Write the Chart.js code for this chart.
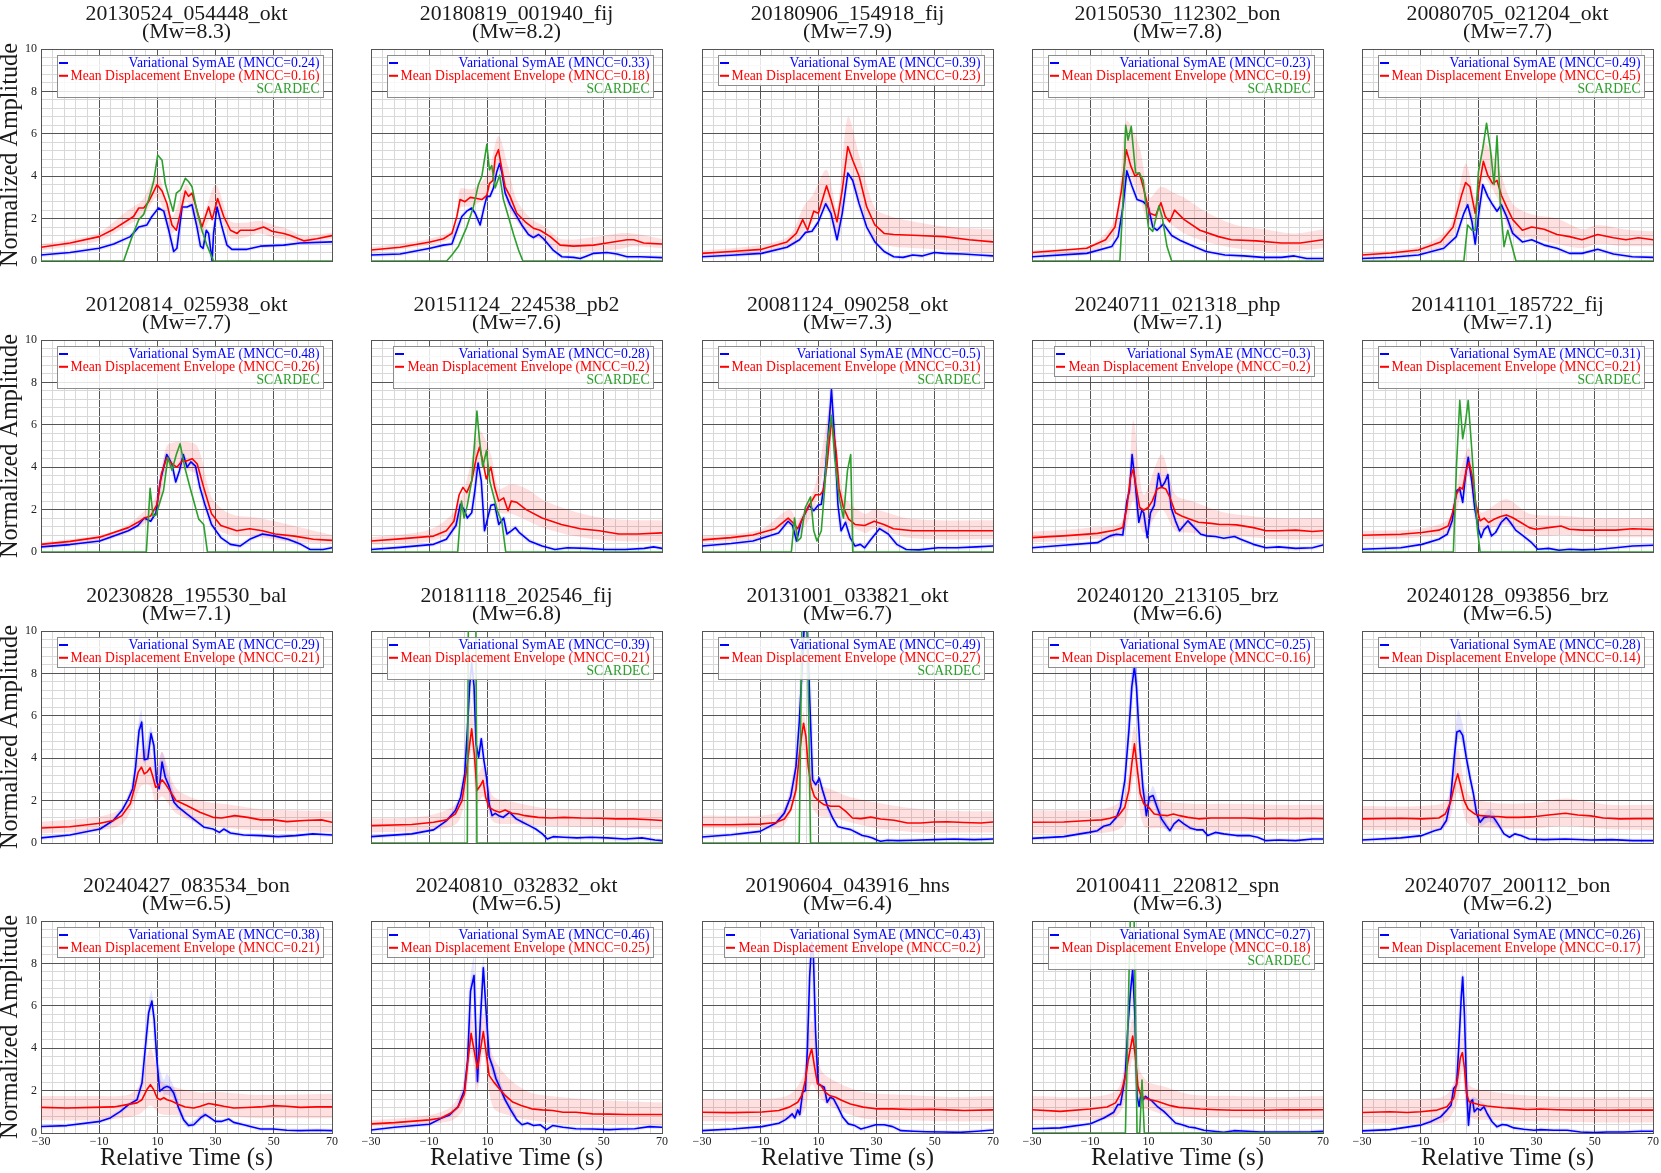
<!DOCTYPE html>
<html><head><meta charset="utf-8">
<script src="https://cdn.jsdelivr.net/npm/chart.js@4.4.1/dist/chart.umd.min.js"></script>
<style>
html,body{margin:0;padding:0;background:#fff;}
body{width:1661px;height:1173px;position:relative;overflow:hidden;}
canvas{position:absolute;}
</style>
</head><body>
<script>
// ---------------- metadata ----------------
const EVENTS = ['20130524_054448_okt','20180819_001940_fij','20180906_154918_fij','20150530_112302_bon','20080705_021204_okt',
 '20120814_025938_okt','20151124_224538_pb2','20081124_090258_okt','20240711_021318_php','20141101_185722_fij',
 '20230828_195530_bal','20181118_202546_fij','20131001_033821_okt','20240120_213105_brz','20240128_093856_brz',
 '20240427_083534_bon','20240810_032832_okt','20190604_043916_hns','20100411_220812_spn','20240707_200112_bon'];
const MW = ['8.3','8.2','7.9','7.8','7.7','7.7','7.6','7.3','7.1','7.1','7.1','6.8','6.7','6.6','6.5','6.5','6.5','6.4','6.3','6.2'];
const MNCC_SYMAE = ['0.24','0.33','0.39','0.23','0.49','0.48','0.28','0.5','0.3','0.31','0.29','0.39','0.49','0.25','0.28','0.38','0.46','0.43','0.27','0.26'];
const MNCC_MDE = ['0.16','0.18','0.23','0.19','0.45','0.26','0.2','0.31','0.2','0.21','0.21','0.21','0.27','0.16','0.14','0.21','0.25','0.2','0.18','0.17'];
const HAS_SCARDEC = [1,1,0,1,1, 1,1,1,0,1, 0,1,1,0,0, 0,0,0,1,0];

const X_MAJOR = [-30,-10,10,30,50,70];
const Y_MAJOR = [0,2,4,6,8,10];
const X_MINOR_STEP = 4;
const Y_MINOR_STEP = 0.4;

// ---------------- series: [time, amplitude] ----------------
const P01_BLUE=[[-30,0.28],[-20,0.4],[-10,0.6],[-5,0.8],[0.7,1.15],[3.6,1.6],[6.4,1.7],[8.1,2.1],[10.4,2.5],[12.2,2.35],[13.9,1.45],[15.6,0.45],[16.7,0.6],[18.5,2.55],[20.2,2.55],[21.9,2.65],[23.6,1.6],[24.8,0.7],[25.7,0.6],[26.8,1.45],[27.6,1.3],[28.8,0],[29.3,1.3],[30.5,2.55],[32.2,1.6],[33.9,0.75],[35.6,0.55],[40.8,0.55],[45.4,0.7],[53.4,0.75],[59.1,0.85],[70,0.9]];
const P01_RED=[[-30,0.65],[-20,0.85],[-10,1.15],[-5,1.5],[1.8,2.1],[3.6,2.5],[5.3,2.5],[7,2.8],[9.9,3.6],[11.6,3.3],[13.3,2.7],[15,1.7],[16.5,1.45],[17.9,2.25],[19.6,3.3],[20.7,3.05],[21.9,3.2],[23.6,2.4],[25.3,1.6],[27.6,2.55],[28.8,1.95],[30.7,2.95],[32.8,2.1],[35.1,1.45],[37.4,1.3],[38.5,1.45],[43.1,1.45],[46.5,1.6],[49.4,1.4],[53.4,1.3],[55.7,1.2],[60.3,0.95],[64.8,1.05],[70,1.2]];
const P01_GREEN=[[-30,0],[-1.6,0],[1.3,1.15],[3.6,1.95],[5.3,2.2],[7,2.9],[8.7,3.75],[10.1,5.0],[11.6,4.75],[12.7,3.65],[13.9,3.05],[15.4,2.35],[16.5,3.2],[17.9,3.35],[19.6,3.9],[20.7,3.75],[21.9,3.5],[23.6,2.35],[25.3,1.45],[27,0.75],[29.3,0],[70,0]];
const P01_BAND=[[-30,0.5,0.8],[-20,0.7,1.0],[-10,0.95,1.35],[0,1.7,2.4],[5,2.1,2.9],[10,3.0,4.1],[15,1.3,2.1],[20,2.8,3.6],[25,1.3,2.0],[30,2.4,3.6],[35,1.1,1.9],[40,1.1,1.8],[45,1.3,1.9],[50,1.1,1.7],[55,1.0,1.5],[60,0.8,1.2],[65,0.9,1.25],[70,1.05,1.35]];

const P02_BLUE=[[-30,0.28],[-20,0.33],[-9.7,0.6],[-5.1,0.75],[-2.2,0.8],[-0.5,1.45],[1.2,2.1],[2.9,2.35],[4.6,2.5],[5.8,2.25],[7.5,1.7],[8.9,2.55],[9.8,3.05],[10.9,3.05],[12.1,3.45],[13.2,4.2],[14.2,4.6],[15,4.15],[16.1,3.2],[17.8,2.65],[19.5,2.25],[21.8,1.7],[24.1,1.25],[25.8,1.1],[27.6,1.25],[29.3,1.05],[32.7,0.5],[35.6,0.2],[39.6,0.17],[41.9,0.12],[44.2,0.24],[46.5,0.36],[51.1,0.4],[54.5,0.33],[58,0.2],[62.5,0.2],[70,0.16]];
const P02_RED=[[-30,0.52],[-20,0.65],[-9.7,0.9],[-5.1,1.05],[-2.2,1.3],[-0.5,2.1],[0.6,2.9],[2.3,2.8],[4.1,3.0],[6.4,2.95],[8.1,2.9],[9.8,3.1],[10.7,3.65],[11.9,3.8],[12.7,4.9],[13.8,5.25],[15,4.3],[16.1,3.5],[17.8,3.05],[20.1,2.25],[23,1.85],[25.8,1.55],[28.1,1.45],[31.6,1.15],[35,0.75],[39.6,0.7],[46.5,0.75],[51.1,0.85],[58,1.0],[60.3,1.0],[63.7,0.85],[70,0.8]];
const P02_GREEN=[[-30,0],[-4,0],[-2.2,0.28],[0,0.68],[2.9,1.6],[5.2,2.55],[6.9,3.6],[8.1,4.0],[9.8,5.5],[10.7,4.3],[11.5,4.5],[12.7,3.45],[14.2,4.05],[15.5,2.9],[17.2,2.1],[19,1.25],[20.7,0.52],[22.2,0],[70,0]];
const P02_BAND=[[-30,0.4,0.65],[-10,0.75,1.05],[-1,1.2,1.6],[0.6,2.5,3.4],[5,2.6,3.4],[10,3.1,4.1],[13.8,4.6,5.9],[17,2.6,4.5],[20,1.9,2.9],[25,1.2,2.0],[30,0.9,1.6],[35,0.45,1.05],[45,0.45,1.1],[55,0.55,1.3],[60,0.7,1.3],[70,0.6,1.05]];

const P03_BLUE=[[-30,0.2],[-20,0.27],[-9.5,0.36],[-0.8,0.65],[3.5,1.0],[5.6,1.35],[7.8,1.4],[10,1.85],[12.5,2.7],[14.3,2.25],[16.4,1.0],[18.2,2.25],[20.1,4.15],[21.8,3.8],[24,2.7],[26.6,1.6],[29.4,0.9],[32.6,0.45],[35.9,0.2],[39.1,0.17],[42.4,0.28],[45.6,0.24],[49.9,0.4],[53.2,0.36],[59.6,0.33],[65,0.28],[70,0.24]];
const P03_RED=[[-30,0.36],[-20,0.45],[-9.5,0.55],[-0.8,0.9],[2.4,1.3],[4.6,1.95],[6.3,1.45],[8.4,2.35],[10,2.25],[12.8,3.55],[14.3,2.9],[16.4,1.85],[18.2,3.35],[20.1,5.4],[21.8,4.75],[24,4.0],[26.6,2.55],[29.4,1.7],[32.6,1.3],[35.9,1.25],[44.5,1.2],[53.2,1.15],[61.8,1.0],[70,0.9]];
const P03_BAND=[[-30,0.25,0.5],[-10,0.4,0.75],[0,0.7,1.2],[5,1.4,2.6],[8,1.8,3.1],[12.8,2.6,4.3],[16.4,1.3,2.5],[20.1,4.3,6.8],[24,2.9,5.0],[29.4,1.0,2.5],[35,0.7,2.1],[45,0.6,1.8],[55,0.5,1.6],[70,0.35,1.5]];

const P04_BLUE=[[-30,0.2],[-11.2,0.36],[-2.6,0.68],[-0.4,1.15],[1.3,2.6],[2.6,4.25],[4.3,3.55],[6.1,2.9],[8.2,2.8],[10,2.55],[11.5,1.6],[13,1.45],[15.1,1.75],[18,1.2],[21.2,0.95],[25.5,0.7],[29.8,0.45],[36.3,0.28],[42.8,0.24],[49.3,0.17],[55.7,0.17],[60.1,0.24],[64.4,0.12],[70,0.12]];
const P04_RED=[[-30,0.4],[-11.2,0.6],[-4.7,1.0],[-1.5,1.6],[0.7,3.3],[2.4,5.25],[3.9,4.5],[5.4,4.0],[6.9,4.15],[8.2,3.5],[10.4,2.25],[12.5,2.15],[14.3,2.75],[15.8,2.1],[17.3,1.85],[19,2.4],[22.3,1.95],[27.7,1.45],[34.1,1.15],[38.5,1.0],[47.1,0.95],[55.7,0.85],[62.2,0.85],[70,1.0]];
const P04_GREEN=[[-30,0],[0.2,0],[1.3,2.9],[2.2,6.4],[3.0,5.7],[4.1,6.35],[5.6,4.15],[6.9,4.15],[8.2,3.8],[10,1.6],[11.5,1.4],[13.6,2.6],[14.7,2.1],[16.4,0.68],[18,0],[70,0]];
const P04_BAND=[[-30,0.3,0.5],[-10,0.45,0.75],[-1.5,1.2,2.0],[2.4,4.3,6.6],[6.9,3.0,5.4],[10.4,1.7,3.0],[14.3,2.0,3.5],[19,1.6,3.2],[22.3,1.3,3.0],[30,0.9,2.3],[40,0.6,1.7],[50,0.45,1.5],[60,0.45,1.3],[70,0.6,1.5]];

const P05_BLUE=[[-30,0.12],[-20,0.18],[-10.6,0.28],[-1.9,0.6],[2.4,1.15],[5,2.25],[6.3,2.65],[7.8,1.85],[8.9,0.8],[10,2.1],[11.5,3.6],[13.2,3.05],[14.9,2.65],[16.4,2.35],[17.9,2.65],[19.7,2.1],[21.8,1.3],[25.1,0.9],[28.3,1.0],[32.6,0.75],[37,0.6],[41.3,0.36],[45.6,0.36],[51,0.55],[56.4,0.33],[62.9,0.2],[70,0.17]];
const P05_RED=[[-30,0.28],[-20,0.38],[-10.6,0.52],[-3,0.9],[1.3,1.6],[4.1,3.05],[5.6,3.7],[7.1,3.5],[8.9,2.25],[10.4,3.65],[11.7,4.7],[13.2,4.05],[14.9,3.65],[16.4,3.8],[17.9,3.1],[19.7,2.55],[21.8,1.95],[25.1,1.45],[28.3,1.6],[32.6,1.5],[37,1.25],[41.3,1.15],[45.6,1.0],[51,1.25],[56.4,1.1],[60.7,1.0],[65,1.1],[70,1.0]];
const P05_GREEN=[[-30,0],[5,0],[6.3,1.7],[7.8,1.45],[8.9,1.45],[10,4.2],[11.5,5.3],[12.8,6.5],[14.1,5.3],[15.4,3.6],[16.4,5.9],[17.5,2.75],[18.8,0.68],[20.1,1.45],[22.9,0],[70,0]];
const P05_BAND=[[-30,0.2,0.4],[-10,0.4,0.7],[0,0.9,1.6],[5.6,2.6,4.6],[8.9,1.7,3.0],[11.7,3.9,5.6],[16.4,3.0,4.6],[21.8,1.2,2.7],[28.3,1.1,2.2],[37,0.8,2.0],[45.6,0.6,1.5],[51,0.8,1.7],[60,0.7,1.5],[70,0.7,1.4]];

const P06_BLUE=[[-30,0.24],[-20,0.35],[-9.8,0.52],[0,1.0],[3.3,1.25],[5.5,1.6],[7.7,1.45],[9.5,1.85],[11,3.35],[13.2,4.6],[15,4.15],[16.3,3.3],[17.6,3.85],[18.9,4.6],[20.2,4.0],[21.5,4.25],[23.1,4.05],[24.6,3.05],[26.4,2.2],[28.6,1.3],[31.8,0.68],[35.1,0.36],[38.4,0.28],[41.7,0.6],[46.1,0.85],[50.5,0.75],[54.9,0.6],[59.3,0.36],[62.5,0.12],[66.9,0.12],[70,0.2]];
const P06_RED=[[-30,0.36],[-20,0.5],[-9.8,0.7],[0,1.15],[3.3,1.4],[5.5,1.6],[7.7,1.7],[9.9,2.25],[11.4,3.7],[13.2,4.45],[15,4.15],[16.7,4.0],[18.5,4.3],[20.2,4.3],[22,4.4],[23.7,4.15],[25.9,3.05],[28.6,1.8],[31.8,1.25],[37.3,1.0],[41.7,1.1],[46.1,1.0],[50.5,0.85],[57.1,0.75],[63.6,0.6],[70,0.55]];
const P06_GREEN=[[-30,0],[6.2,0],[7.5,3.0],[8.5,1.7],[9.5,1.75],[12.1,2.9],[13.6,4.45],[15,3.85],[16.5,4.6],[17.8,5.1],[19.4,4.0],[21.1,3.1],[22.6,2.35],[24.2,1.55],[25.9,1.3],[27.2,0],[70,0]];
const P06_BAND=[[-30,0.25,0.45],[-10,0.5,0.8],[0,0.95,1.3],[9.9,1.8,2.7],[13.2,3.9,5.0],[18.5,3.9,5.2],[23.7,3.6,5.0],[28.6,1.3,2.6],[35,0.8,1.8],[45,0.7,1.6],[55,0.5,1.3],[70,0.4,0.8]];

const P07_BLUE=[[-30,0.12],[-20,0.22],[-8.5,0.36],[-4.1,0.6],[-0.8,1.25],[0.7,2.25],[2,2.0],[3.1,1.6],[4.6,1.85],[5.7,2.9],[6.8,4.2],[7.9,3.35],[9,1.0],[10.1,1.6],[11.2,2.2],[12.5,2.25],[13.9,1.3],[15.6,1.6],[16.7,0.85],[18.2,1.0],[19.6,1.15],[21.1,0.9],[24.4,0.52],[28.8,0.28],[33.2,0.12],[37.5,0.2],[44.1,0.17],[50.7,0.12],[57.3,0.12],[63.9,0.17],[67.1,0.24],[70,0.17]];
const P07_RED=[[-30,0.52],[-20,0.62],[-8.5,0.75],[-4.1,1.0],[-1.5,1.45],[0.3,2.7],[1.6,3.05],[2.9,2.8],[4.6,3.35],[6.2,4.45],[7.3,4.95],[8.6,4.15],[9.6,3.45],[11.2,4.0],[12.5,3.05],[13.9,2.4],[15.6,2.55],[17.1,1.95],[18.2,2.4],[20,2.35],[23.3,2.0],[28.8,1.6],[35.4,1.3],[41.9,1.1],[48.5,1.0],[55.1,0.85],[61.7,0.85],[70,0.9]];
const P07_GREEN=[[-30,0],[-0.2,0],[1.1,2.4],[2,1.6],[3.1,2.2],[4.6,3.35],[6.4,6.65],[7.3,5.25],[8.4,4.0],[9.7,4.8],[10.8,3.35],[12.3,2.55],[13.4,1.95],[15,1.4],[16.3,0],[70,0]];
const P07_BAND=[[-30,0.35,0.7],[-10,0.5,1.05],[-1.5,1.0,1.9],[2.9,2.3,3.4],[7.3,4.1,5.7],[11.2,3.4,4.6],[13.9,1.9,3.0],[18.2,1.8,3.2],[23.3,1.5,3.0],[30,1.1,2.4],[40,0.75,1.9],[50,0.55,1.6],[60,0.5,1.5],[70,0.5,1.5]];

const P08_BLUE=[[-30,0.28],[-20,0.4],[-12.5,0.52],[-3.7,0.9],[-0.4,1.45],[1.1,1.25],[2.5,0.52],[4,1.4],[5.5,1.85],[6.8,2.2],[8.4,1.95],[9.9,2.2],[11,2.25],[12.1,3.35],[13.2,5.25],[14.5,7.65],[15.6,5.25],[16.7,2.25],[17.8,1.0],[19.3,1.4],[20.9,0.68],[22.6,0.28],[24.4,0.36],[25.9,0.2],[28.1,0.6],[31,1.1],[34,0.85],[36.9,0.36],[40.2,0.12],[44.6,0.1],[51.1,0.2],[57.7,0.2],[64.3,0.24],[70,0.28]];
const P08_RED=[[-30,0.57],[-20,0.68],[-12.5,0.8],[-4.8,1.1],[-0.4,1.6],[1.1,1.4],[2.9,1.1],[4.6,1.6],[6.8,2.2],[9,2.7],[10.6,2.7],[11.7,2.9],[13,4.15],[14.5,6.25],[16.1,4.75],[17.1,3.0],[18.6,2.1],[20.4,1.55],[22.6,1.3],[25.9,1.25],[29.2,1.45],[32.5,1.3],[35.8,1.1],[42.4,1.0],[48.9,1.0],[53.3,1.0],[59.9,1.0],[70,1.0]];
const P08_GREEN=[[-30,0],[0.7,0],[1.8,1.6],[2.9,0.52],[4,0.68],[5.5,2.1],[7.3,2.6],[8.4,1.0],[9.5,0.52],[11,1.0],[12.1,2.9],[13.2,5.25],[14.5,6.45],[15.6,4.45],[17.1,2.6],[18.6,1.6],[20,3.85],[21.1,4.6],[21.8,0],[70,0]];
const P08_BAND=[[-30,0.45,0.75],[-10,0.65,1.05],[0,1.3,2.0],[2.9,0.8,1.5],[9,2.2,3.2],[14.5,5.5,7.0],[18.6,1.6,2.7],[25.9,0.9,1.8],[29.2,1.1,2.0],[40,0.7,1.6],[50,0.6,1.5],[70,0.6,1.5]];

const P09_BLUE=[[-30,0.2],[-19.1,0.32],[-7.5,0.44],[-3.2,0.76],[-1,0.84],[1.2,0.8],[2.6,2.4],[3.5,2.9],[4.4,4.6],[5.5,3.2],[6.7,1.4],[7.7,1.95],[8.4,1.85],[9.6,0.68],[10.7,1.85],[12,2.2],[13.5,3.7],[14.5,3.05],[15.7,3.3],[16.7,3.65],[17.8,2.1],[19.3,1.47],[20.7,1.0],[22.2,1.25],[23.6,1.47],[25.8,1.15],[28,0.84],[30.1,0.76],[33,0.73],[35.9,0.65],[39.6,0.73],[41.7,0.6],[46.1,0.36],[50.4,0.2],[54.8,0.24],[60.6,0.17],[66.4,0.2],[70,0.33]];
const P09_RED=[[-30,0.68],[-19.1,0.76],[-7.5,0.88],[-1.7,1.03],[1.2,1.15],[2.6,2.1],[3.8,3.5],[4.8,3.9],[5.8,3.05],[7,2.1],[8.4,1.97],[9.9,2.1],[11.3,2.4],[13,2.97],[14.5,3.05],[16,2.97],[17.4,2.57],[19.3,1.85],[21.4,1.7],[24.3,1.55],[27.2,1.4],[31.6,1.35],[34.5,1.3],[37.4,1.3],[40.3,1.28],[46.1,1.15],[50.4,1.0],[54.8,1.0],[60.6,1.03],[66.4,0.97],[70,1.0]];
const P09_BAND=[[-30,0.45,0.95],[-10,0.6,1.15],[1.2,0.85,1.5],[4.8,2.4,6.2],[8.4,0.9,2.7],[14.5,2.0,4.6],[19.3,1.0,2.7],[25,0.9,2.4],[35,0.8,1.9],[45,0.7,1.7],[55,0.6,1.6],[70,0.6,1.6]];

const P10_BLUE=[[-30,0.13],[-16.7,0.2],[-9.4,0.36],[-3.6,0.6],[-0.7,0.84],[1,1.47],[2.5,2.9],[3.6,2.97],[4.6,2.34],[5.5,3.52],[6.5,4.47],[7.7,3.36],[8.7,2.1],[9.9,1.15],[10.9,0.68],[12,1.07],[13.3,1.23],[14.5,0.76],[15.9,0.92],[17.8,1.39],[19.6,1.63],[21,1.39],[22.8,1.03],[25.4,0.76],[28.3,0.44],[30.4,0.13],[34.1,0.17],[37.7,0.08],[41.3,0.13],[45.7,0.1],[51.4,0.13],[57.2,0.2],[63,0.28],[70,0.32]];
const P10_RED=[[-30,0.79],[-16.7,0.84],[-9.4,0.92],[-3.6,1.03],[-0.4,1.23],[1,1.79],[2.5,2.73],[3.6,3.05],[4.6,2.97],[5.8,3.84],[6.8,4.23],[8,3.52],[9.1,2.26],[10.6,1.47],[12,1.6],[13.5,1.39],[15.2,1.53],[17.4,1.66],[19.6,1.75],[21.7,1.63],[24.6,1.39],[27.5,1.15],[29.7,1.07],[34.1,1.15],[38.4,1.23],[41.3,1.07],[45.7,1.03],[51.4,1.03],[57.2,1.03],[63,1.1],[70,1.06]];
const P10_GREEN=[[-30,0],[1.4,0],[2.5,4.15],[3.6,7.15],[4.6,5.34],[5.5,6.05],[6.5,7.15],[7.5,5.26],[8.7,2.9],[9.7,1.0],[10.6,0],[70,0]];
const P10_BAND=[[-30,0.6,1.0],[-10,0.7,1.1],[0,0.95,1.6],[3.6,2.5,3.7],[6.8,3.6,4.9],[10.6,1.1,1.9],[19.6,1.3,2.5],[27.5,0.8,1.8],[40,0.8,1.7],[50,0.7,1.6],[60,0.7,1.6],[70,0.7,1.6]];

const P11_BLUE=[[-30,0.24],[-20.1,0.38],[-9.7,0.66],[-5.2,1.06],[-2.2,1.53],[0,2.08],[1.5,2.56],[2.5,3.58],[3.7,5.3],[4.6,5.7],[5.5,3.93],[6.7,3.97],[7.8,5.16],[8.8,4.6],[9.7,2.95],[10.6,2.56],[11.6,3.82],[12.7,3.1],[13.9,2.71],[15.7,1.92],[17.2,1.69],[18.7,1.53],[20.1,1.37],[23.1,1.06],[26.1,0.74],[29.1,0.66],[31.3,0.5],[32.8,0.66],[35.1,0.47],[39.6,0.38],[45.5,0.35],[51.5,0.3],[57.5,0.35],[63.4,0.43],[70,0.38]];
const P11_RED=[[-30,0.71],[-20.1,0.77],[-9.7,0.93],[-5.2,1.06],[-2.2,1.29],[0.7,1.85],[2.2,2.63],[3.4,3.34],[4.5,3.58],[5.5,3.26],[6.4,3.34],[7.5,3.55],[8.5,3.1],[9.4,2.63],[10.4,2.71],[11.6,2.98],[12.7,2.79],[14.2,2.48],[16.4,2.0],[20.1,1.77],[24.6,1.45],[29.1,1.21],[32.1,1.18],[36.6,1.29],[41,1.21],[45.5,1.09],[50,1.09],[54.5,1.01],[60.4,1.06],[66.4,1.09],[70,0.98]];
const P11_BAND=[[-30,0.45,1.0],[-10,0.6,1.25],[-2,0.9,1.7],[2,1.9,3.2],[4.5,2.7,4.4],[7.5,2.7,4.3],[9.4,1.9,3.4],[11.6,2.2,4.3],[16.4,1.4,2.6],[25,0.9,2.0],[35,0.7,1.8],[45,0.6,1.6],[55,0.55,1.55],[70,0.5,1.5]];
const P11_BBAND=[[2,2.4,2.9],[3.7,4.9,5.9],[4.6,5.4,6.3],[5.5,3.7,4.4],[7.8,4.8,5.5],[9.7,2.7,3.3],[11.6,3.5,4.3],[14,2.4,3.1],[17,1.5,1.9]];

const P12_BLUE=[[-30,0.3],[-16,0.43],[-8.5,0.62],[-4,1.06],[-1,1.53],[0.8,2.16],[2.2,3.26],[3.1,5.3],[3.9,7.4],[4.6,8.5],[5.4,7.4],[6.1,4.68],[7,4.05],[7.9,4.92],[8.8,3.9],[9.7,3.1],[10.6,1.85],[11.6,1.29],[12.7,1.4],[13.9,1.29],[15.4,1.21],[17.6,1.45],[19.9,1.14],[22.1,0.98],[24.4,0.82],[26.6,0.66],[28.9,0.43],[30.6,0.19],[32.6,0.3],[36.3,0.27],[40.8,0.24],[45.3,0.27],[51.2,0.24],[57.2,0.19],[63.1,0.24],[67.6,0.14],[70,0.11]];
const P12_RED=[[-30,0.82],[-16,0.87],[-8.5,0.98],[-4,1.09],[-1,1.37],[1.3,2.0],[2.8,3.42],[3.8,4.53],[4.6,5.39],[5.5,4.2],[6.4,2.48],[7.6,2.71],[8.5,2.95],[9.4,2.16],[10.6,1.69],[12.4,1.53],[14.2,1.45],[16.1,1.56],[18.4,1.4],[20.6,1.37],[22.9,1.29],[27.4,1.21],[31.9,1.18],[36.3,1.21],[42.3,1.18],[48.3,1.17],[54.2,1.14],[60.1,1.14],[66.1,1.1],[70,1.06]];
const P12_GREEN=[[-30,0],[3.1,0],[3.5,12],[6.0,12],[6.4,0],[70,0]];
const P12_BAND=[[-30,0.5,1.15],[-10,0.6,1.3],[0,1.0,2.0],[3.8,3.5,5.5],[4.6,4.5,6.5],[6.4,1.8,3.2],[8.5,2.2,3.6],[12,1.0,2.2],[20,0.9,1.9],[30,0.8,1.65],[45,0.75,1.6],[60,0.7,1.6],[70,0.65,1.55]];

const P13_BLUE=[[-30,0.28],[-20,0.39],[-10,0.55],[-4.6,0.94],[-1.7,1.41],[0.5,2.2],[2.3,3.6],[3.4,5.65],[4.2,7.7],[4.9,9.6],[5.6,11.5],[6.3,9.6],[7.2,6.1],[8,2.98],[9.1,2.75],[10.3,3.06],[11.4,2.5],[13.1,1.73],[14.9,1.18],[16.6,0.78],[18.9,0.7],[21.1,0.63],[23.4,0.47],[25.1,0.35],[26.9,0.31],[28.6,0.24],[30.3,0.13],[31.4,0.08],[33.7,0.13],[37.2,0.11],[42.9,0.13],[49.7,0.16],[56.6,0.19],[63.5,0.16],[70,0.19]];
const P13_RED=[[-30,0.86],[-20,0.86],[-10,0.89],[-4.6,0.97],[-1.7,1.13],[0.5,1.57],[2.3,2.51],[3.4,4.08],[4.2,5.02],[4.9,5.65],[5.7,5.02],[6.5,3.61],[7.5,2.67],[8.6,2.2],[10.3,1.96],[12,1.8],[14.3,1.73],[17.2,1.73],[19.4,1.49],[21.7,1.18],[24.6,1.15],[28,1.22],[31.4,1.13],[36,1.07],[40.6,0.94],[45.2,0.94],[49.7,0.99],[54.3,1.0],[60,0.97],[65.8,0.94],[70,0.99]];
const P13_GREEN=[[-30,0],[3.4,0],[5.2,20],[7.3,0],[70,0]];
const P13_BAND=[[-30,0.7,1.3],[-10,0.7,1.3],[-2,0.8,1.6],[3.4,2.8,4.8],[4.9,4.4,6.2],[7,2.0,3.8],[10,1.3,2.8],[15,1.2,2.5],[20,1.0,2.2],[30,0.7,1.9],[45,0.5,1.6],[60,0.5,1.5],[70,0.5,1.5]];

const P14_BLUE=[[-30,0.22],[-19.1,0.3],[-10.4,0.5],[-7.5,0.58],[-5.4,0.79],[-3.2,0.87],[-1,1.21],[0.4,1.69],[1.9,2.95],[3.3,5.3],[4.3,7.37],[5.2,8.3],[5.9,7.37],[7,4.68],[8.1,2.63],[9.3,1.29],[10.3,2.16],[11.6,2.24],[13,1.69],[14.5,1.14],[16.1,0.82],[17.4,0.58],[18.8,0.9],[20.4,1.09],[22.2,0.9],[24.3,0.71],[26.5,0.62],[28.7,0.62],[30.4,0.35],[33,0.5],[35.9,0.43],[40.3,0.35],[44.6,0.35],[47.5,0.27],[50.4,0.11],[54.8,0.14],[60.6,0.11],[66.4,0.19],[70,0.19]];
const P14_RED=[[-30,0.98],[-19.1,0.99],[-10.4,1.06],[-6.1,1.09],[-3.2,1.17],[-0.3,1.29],[1.9,1.69],[3.3,2.48],[4.3,3.74],[5.2,4.68],[6.1,3.58],[7.2,2.32],[8.4,1.85],[9.9,1.72],[12,1.37],[14.2,1.32],[16.4,1.29],[18.6,1.37],[20.7,1.29],[23.6,1.21],[27.2,1.14],[31.6,1.18],[37.4,1.18],[43.2,1.18],[49,1.15],[54.8,1.17],[60.6,1.15],[66.4,1.17],[70,1.15]];
const P14_BAND=[[-30,0.45,1.55],[-10,0.45,1.55],[-2,0.55,1.75],[2,0.9,2.3],[5.2,3.2,5.5],[8.4,0.8,2.4],[14,0.7,2.0],[25,0.6,1.85],[40,0.55,1.85],[55,0.55,1.8],[70,0.5,1.8]];
const P14_BBAND=[[2,2.6,3.4],[4.3,6.5,8.5],[5.2,7.6,10],[6,6.5,8.5],[8,2.3,3.0],[10.3,1.9,2.4],[11.6,1.9,2.7],[14.5,0.9,1.5],[17,0.5,0.8]];

const P15_BLUE=[[-30,0.14],[-16.7,0.24],[-9.4,0.35],[-5.1,0.58],[-2.9,0.66],[-1,1.06],[0.4,2.0],[1.6,3.9],[2.6,5.24],[3.6,5.3],[4.6,5.08],[5.8,4.05],[7.2,3.03],[8.3,2.32],[9.4,1.37],[10.6,0.98],[12,1.21],[13.8,1.25],[15.2,1.21],[16.7,0.9],[18.8,0.43],[20.7,0.27],[22.5,0.43],[24.6,0.35],[27.5,0.19],[32.6,0.16],[39.9,0.19],[48.6,0.14],[55.8,0.16],[63,0.11],[70,0.11]];
const P15_RED=[[-30,1.14],[-16.7,1.17],[-9.4,1.14],[-3.6,1.18],[-1.4,1.37],[0.4,1.92],[1.9,2.79],[2.9,3.26],[3.9,2.71],[5.1,2.0],[6.5,1.6],[8.7,1.37],[10.9,1.29],[13.8,1.26],[16.7,1.25],[19.6,1.21],[23.9,1.21],[28.3,1.23],[34.1,1.32],[39.9,1.4],[44.2,1.32],[48.6,1.28],[52.9,1.18],[58.7,1.14],[64.5,1.15],[70,1.15]];
const P15_BAND=[[-30,0.6,1.75],[-10,0.6,1.75],[-1,0.8,2.0],[2.9,2.4,4.4],[6.5,0.9,2.3],[15,0.7,1.9],[30,0.7,1.9],[40,0.8,2.1],[55,0.65,1.8],[70,0.6,1.8]];
const P15_BBAND=[[0.4,1.8,2.2],[1.6,3.5,4.4],[3,4.9,6.3],[4.6,4.7,5.6],[7.2,2.8,3.4],[10.6,0.8,1.2],[13.8,1.0,1.6],[16.7,0.75,1.1]];

const P16_BLUE=[[-30,0.31],[-21.1,0.35],[-9.6,0.55],[-6.2,0.71],[-2.7,1.02],[0.1,1.34],[3,1.57],[4.7,2.36],[5.9,4.09],[7,5.67],[8.1,6.22],[8.9,5.35],[9.9,3.31],[10.8,1.97],[12.2,2.13],[13.3,2.2],[14.4,2.13],[15.6,1.89],[17.3,1.18],[19,0.63],[20.7,0.35],[22.5,0.39],[24.8,0.71],[26.5,0.87],[28.2,0.71],[29.9,0.55],[32.2,0.55],[34.5,0.66],[36.2,0.5],[39.6,0.39],[41.9,0.31],[45.4,0.19],[49.9,0.19],[54.5,0.13],[59.1,0.11],[64.8,0.13],[70,0.11]];
const P16_RED=[[-30,1.21],[-21.1,1.18],[-11.9,1.21],[-5,1.23],[-0.4,1.34],[3,1.42],[4.7,1.57],[6.4,2.05],[7.6,2.28],[8.7,2.05],[9.9,1.65],[11,1.57],[12.2,1.67],[13.3,1.57],[15,1.5],[17.3,1.34],[19.6,1.23],[22.5,1.18],[24.8,1.26],[27.6,1.39],[29.9,1.34],[32.8,1.26],[36.2,1.18],[40.8,1.2],[45.4,1.23],[49.9,1.29],[54.5,1.26],[59.1,1.21],[64.8,1.23],[70,1.23]];
const P16_BAND=[[-30,0.6,1.75],[-10,0.6,1.75],[0,0.75,1.8],[4,0.9,2.3],[7.6,1.3,4.0],[11,0.9,2.5],[15,0.85,2.2],[25,0.75,1.9],[30,0.8,1.95],[45,0.7,1.8],[70,0.7,1.85]];
const P16_BBAND=[[4.7,2.2,2.6],[7,5.3,6.2],[8.1,5.9,6.7],[9.9,3.1,3.6],[12.2,1.8,2.5],[13.3,1.8,2.8],[15.6,1.6,2.2],[19,0.5,0.8],[21,0.25,0.5],[26.5,0.75,1.0]];

const P17_BLUE=[[-30,0.14],[-21.8,0.27],[-9.9,0.41],[-5.9,0.69],[-3,0.85],[-0.1,1.24],[2.1,2.03],[3.2,3.45],[4.2,6.69],[5.4,7.43],[6.6,2.43],[7.6,5.35],[8.6,7.79],[9.6,5.66],[10.6,3.6],[11.8,3.13],[12.9,2.58],[14.4,2.11],[16.1,1.56],[18,1.09],[20.1,0.62],[21.9,0.39],[23.8,0.47],[25.9,0.35],[28.1,0.39],[30.3,0.16],[32.4,0.35],[36,0.27],[40.4,0.2],[46.2,0.19],[51.9,0.16],[56.3,0.19],[60.6,0.2],[65.7,0.3],[70,0.27]];
const P17_RED=[[-30,0.43],[-21.8,0.49],[-9.9,0.62],[-5.9,0.71],[-2.7,0.93],[-0.1,1.22],[2.1,1.85],[3.2,3.28],[4.4,4.7],[5.4,3.92],[6.6,3.04],[7.6,3.92],[8.6,4.78],[9.6,3.75],[10.6,2.72],[12.2,2.4],[14.1,2.09],[16.1,1.77],[18.7,1.46],[21.6,1.3],[25.2,1.14],[28.8,1.09],[32.4,1.06],[36,0.98],[40.4,0.98],[46.2,0.9],[51.9,0.89],[57.7,0.87],[63.5,0.87],[70,0.87]];
const P17_BAND=[[-30,0.3,0.6],[-10,0.45,0.85],[-2,0.6,1.3],[2,1.2,2.5],[4.4,3.8,5.6],[6.6,2.0,4.0],[8.6,3.8,5.6],[12,1.2,3.6],[18,0.8,2.5],[25,0.6,1.9],[35,0.45,1.7],[50,0.4,1.55],[70,0.4,1.45]];
const P17_BBAND=[[3.2,3.2,3.8],[4.2,6.3,7.4],[5.4,7.1,8.3],[6.6,2.2,2.7],[8.6,7.4,8.3],[10.6,3.3,4.0],[14.4,1.9,2.4],[20,0.5,0.8]];

const P18_BLUE=[[-30,0.11],[-19.6,0.19],[-9.4,0.3],[-3.6,0.46],[-1.4,0.62],[0,0.77],[1,0.9],[1.9,0.71],[2.9,1.09],[3.6,0.87],[4.6,1.93],[5.5,2.0],[6.2,3.9],[7,7.4],[7.7,9.0],[8.3,8.28],[9,4.85],[9.9,2.32],[10.9,2.24],[12,2.16],[13,1.45],[14.1,1.69],[15.2,1.61],[16.7,1.22],[18.4,0.74],[20.3,0.43],[22.5,0.35],[24.6,0.19],[26.8,0.27],[29.7,0.39],[32.6,0.39],[35.5,0.3],[38.4,0.11],[42.8,0.08],[47.1,0.06],[52.9,0.05],[58.7,0.03],[64.5,0.08],[70,0.14]];
const P18_RED=[[-30,0.98],[-19.6,0.96],[-9.4,0.99],[-3.6,1.06],[0,1.22],[2.9,1.45],[4.3,1.77],[5.5,2.48],[6.5,3.43],[7.7,3.97],[8.7,3.1],[9.7,2.32],[10.9,2.24],[12.3,1.93],[13.8,1.77],[15.9,1.69],[18.1,1.53],[21,1.37],[25.4,1.22],[29.7,1.14],[35.5,1.14],[41.3,1.11],[48.6,1.12],[54.3,1.09],[60.1,1.06],[70,1.09]];
const P18_BAND=[[-30,0.55,1.6],[-10,0.55,1.6],[0,0.65,1.8],[5,1.0,2.8],[7.7,2.3,5.3],[10.9,1.6,3.0],[15,1.2,2.5],[25,0.7,1.95],[40,0.6,1.8],[55,0.55,1.7],[70,0.55,1.75]];

const P19_BLUE=[[-30,0.2],[-20.3,0.24],[-9.9,0.44],[-5.3,0.71],[-1.9,0.98],[-0.5,1.34],[0.4,1.34],[1.3,2.05],[2.1,2.83],[2.9,4.88],[3.8,6.61],[4.6,7.72],[5.3,5.67],[6.1,1.73],[6.8,1.26],[7.5,1.89],[8.2,1.57],[9,1.73],[10.1,1.61],[11.3,1.5],[13,1.26],[15.3,1.02],[17.6,0.71],[19.3,0.47],[21.6,0.39],[23.9,0.28],[26.2,0.24],[29.1,0.13],[32.5,0.08],[35.9,0.03],[39.4,0.11],[44,0.08],[48.6,0.05],[54.3,0.05],[60,0.05],[65.8,0.06],[70,0.08]];
const P19_RED=[[-30,1.1],[-20.3,1.02],[-9.9,1.13],[-4.2,1.23],[-1.3,1.42],[0.6,1.89],[2.1,2.68],[3.3,3.62],[4.6,4.57],[5.5,3.62],[6.4,2.2],[7.5,1.73],[9,1.65],[10.7,1.57],[13,1.5],[15.3,1.39],[17.6,1.29],[20.4,1.21],[23.3,1.18],[27.9,1.13],[33.6,1.1],[39.4,1.07],[45.1,1.07],[50.8,1.07],[56.6,1.1],[62.3,1.09],[70,1.1]];
const P19_GREEN=[[-30,0],[2.1,0],[4.6,15],[6.1,0],[7,0],[7.8,2.5],[8.6,0],[70,0]];
const P19_BAND=[[-30,0.6,1.75],[-10,0.6,1.7],[-1,0.8,2.0],[2,1.5,3.3],[4.6,3.5,5.4],[7,1.2,3.0],[10,1.1,2.4],[15,0.9,2.2],[25,0.75,1.8],[40,0.7,1.75],[55,0.65,1.7],[70,0.65,1.75]];

const P20_BLUE=[[-30,0.1],[-20.3,0.16],[-9.9,0.37],[-6.5,0.53],[-3,0.76],[-0.8,1.08],[0.6,1.31],[1.5,2.1],[2.5,2.26],[3.3,4.17],[4.1,6.4],[4.6,7.36],[5.2,5.6],[5.9,2.26],[6.6,0.37],[7.3,1.48],[8,1.56],[8.6,1.0],[9.6,1.16],[10.7,1.08],[11.9,1.24],[13,0.92],[14.7,0.53],[16.4,0.29],[18.2,0.4],[19.9,0.37],[22.2,0.24],[25.6,0.18],[29.1,0.13],[31.4,0.16],[35.9,0.13],[40.5,0.13],[45.1,0.05],[49.7,0.02],[54.3,0.05],[60,0.05],[65.8,0.08],[70,0.08]];
const P20_RED=[[-30,0.97],[-20.3,1.0],[-14.5,0.97],[-9.9,1.0],[-4.2,1.08],[-0.8,1.24],[1.5,1.64],[2.9,2.6],[3.8,3.55],[4.5,3.79],[5.2,3.07],[5.9,1.88],[6.8,1.48],[8.5,1.4],[10.7,1.32],[13,1.27],[15.3,1.24],[18.7,1.19],[22.2,1.16],[26.8,1.11],[31.4,1.13],[37.1,1.1],[42.8,1.08],[48.6,1.08],[54.3,1.07],[60,1.08],[65.8,1.08],[70,1.08]];
const P20_BAND=[[-30,0.45,1.6],[-10,0.45,1.6],[-1,0.55,1.8],[2.9,1.5,3.0],[4.5,2.9,4.7],[6.8,0.8,2.3],[15,0.6,1.95],[30,0.55,1.75],[50,0.5,1.7],[70,0.5,1.7]];
const P20_BBAND=[[2.5,2.1,2.6],[4.1,6.0,7.0],[4.6,6.9,7.9],[5.9,2.0,2.6],[6.6,0.3,0.9],[8,1.4,1.7],[11.9,1.1,1.4]];

const BLUE=[P01_BLUE,P02_BLUE,P03_BLUE,P04_BLUE,P05_BLUE,P06_BLUE,P07_BLUE,P08_BLUE,P09_BLUE,P10_BLUE,P11_BLUE,P12_BLUE,P13_BLUE,P14_BLUE,P15_BLUE,P16_BLUE,P17_BLUE,P18_BLUE,P19_BLUE,P20_BLUE];
const RED=[P01_RED,P02_RED,P03_RED,P04_RED,P05_RED,P06_RED,P07_RED,P08_RED,P09_RED,P10_RED,P11_RED,P12_RED,P13_RED,P14_RED,P15_RED,P16_RED,P17_RED,P18_RED,P19_RED,P20_RED];
const GREEN=[P01_GREEN,P02_GREEN,null,P04_GREEN,P05_GREEN,P06_GREEN,P07_GREEN,P08_GREEN,null,P10_GREEN,null,P12_GREEN,P13_GREEN,null,null,null,null,null,P19_GREEN,null];
const RBAND=[P01_BAND,P02_BAND,P03_BAND,P04_BAND,P05_BAND,P06_BAND,P07_BAND,P08_BAND,P09_BAND,P10_BAND,P11_BAND,P12_BAND,P13_BAND,P14_BAND,P15_BAND,P16_BAND,P17_BAND,P18_BAND,P19_BAND,P20_BAND];
const BBAND=[null,null,null,null,null,null,null,null,null,null,P11_BBAND,null,null,P14_BBAND,P15_BBAND,P16_BBAND,P17_BBAND,null,null,P20_BBAND];

// ---------------- styling ----------------
const FAMILY = '"Liberation Serif", "Times New Roman", serif';
const C_BLUE = '#0000ff', C_RED = '#ff0000', C_GREEN = '#2ca02c';
const C_MAJOR = '#555555', C_MINOR = '#d8d8d8';
const mctx = document.createElement('canvas').getContext('2d');
function fitSize(text, w){ mctx.font = '100px ' + FAMILY; return 100 * w / mctx.measureText(text).width; }
const TITLE_PX = fitSize('20130524_054448_okt', 202);
const LEG_PX = fitSize('Mean Displacement Envelope (MNCC=0.16)', 249);
const YLAB_PX = fitSize('Normalized Amplitude', 224);
const XLAB_PX = fitSize('Relative Time (s)', 173);

function buildTicks(min, max, step){ const out=[]; const n=Math.round((max-min)/step); for(let k=0;k<=n;k++){ out.push(Math.round((min+k*step)*1000)/1000); } return out; }
const X_TICKS_ALL = buildTicks(X_MAJOR[0], X_MAJOR[X_MAJOR.length-1], X_MINOR_STEP);
const Y_TICKS_ALL = buildTicks(Y_MAJOR[0], Y_MAJOR[Y_MAJOR.length-1], Y_MINOR_STEP);
const fmt = v => v < 0 ? '\u2212' + (-v) : String(v);

function bandSets(band, color){
  return [
    {data: band.map(b=>({x:b[0], y:b[1]})), borderColor:'rgba(0,0,0,0)', borderWidth:0, pointRadius:0, fill:false, tension:0.3},
    {data: band.map(b=>({x:b[0], y:b[2]})), borderColor:'rgba(0,0,0,0)', borderWidth:0, pointRadius:0, fill:'-1', backgroundColor:color, tension:0.3}
  ];
}
const lineBase = {pointRadius:0, tension:0, fill:false, borderJoinStyle:'round', borderCapStyle:'round'};

for (let i = 0; i < 20; i++) {
  const r = Math.floor(i / 5), c = i % 5;
  const W = 340, H = (r === 3) ? 301 : 275;
  const PAD_L = 41, PAD_T = 49, PAD_R = 8, PAD_B = H - 49 - 212;
  const cv = document.createElement('canvas');
  cv.width = W; cv.height = H;
  cv.style.width = W + 'px'; cv.style.height = H + 'px';
  cv.style.left = Math.round(330.3 * c) + 'px';
  cv.style.top = Math.round(290.8 * r) + 'px';
  document.body.appendChild(cv);

  const datasets = [];
  if (GREEN[i]) datasets.push(Object.assign({label:'SCARDEC', data:GREEN[i], borderColor:C_GREEN, borderWidth:1.6}, lineBase));
  datasets.push(Object.assign({label:'MDE', data:RED[i], borderColor:C_RED, borderWidth:1.6}, lineBase));
  datasets.push(Object.assign({label:'SymAE', data:BLUE[i], borderColor:C_BLUE, borderWidth:1.6}, lineBase));
  datasets.push(Object.assign({label:'halo', data:BLUE[i], borderColor:'rgba(0,0,255,0.10)', borderWidth:4}, lineBase));
  if (BBAND[i]) datasets.push(...bandSets(BBAND[i], 'rgba(0,0,255,0.10)'));
  datasets.push(...bandSets(RBAND[i], 'rgba(255,0,0,0.12)'));

  const decor = {
    id: 'decor' + i,
    afterDraw(chart) {
      const ctx = chart.ctx, a = chart.chartArea;
      const cx = (a.left + a.right) / 2;
      ctx.save();
      ctx.fillStyle = '#1a1a1a';
      ctx.textAlign = 'center'; ctx.textBaseline = 'alphabetic';
      ctx.font = TITLE_PX.toFixed(2) + 'px ' + FAMILY;
      ctx.fillText(EVENTS[i], cx, a.top - 29);
      ctx.fillText('(Mw=' + MW[i] + ')', cx, a.top - 11.5);
      if (c === 0) {
        ctx.save();
        ctx.translate(a.left - 24, (a.top + a.bottom) / 2);
        ctx.rotate(-Math.PI / 2);
        ctx.font = YLAB_PX.toFixed(2) + 'px ' + FAMILY;
        ctx.fillText('Normalized Amplitude', 0, 0);
        ctx.restore();
      }
      if (r === 3) {
        ctx.font = XLAB_PX.toFixed(2) + 'px ' + FAMILY;
        ctx.fillText('Relative Time (s)', cx, a.bottom + 32);
      }
      // legend
      const lines = [
        {t:'Variational SymAE (MNCC=' + MNCC_SYMAE[i] + ')', col:C_BLUE, h:true},
        {t:'Mean Displacement Envelope (MNCC=' + MNCC_MDE[i] + ')', col:C_RED, h:true}
      ];
      if (HAS_SCARDEC[i]) lines.push({t:'SCARDEC', col:C_GREEN, h:false});
      ctx.font = LEG_PX.toFixed(2) + 'px ' + FAMILY;
      const tw = Math.max(...lines.map(l => ctx.measureText(l.t).width));
      const right = Math.round(a.right - 9), top = Math.round(a.top + 6);
      const textRight = right - 3.5;
      const left = Math.round(textRight - tw - 14);
      const hgt = Math.round(lines.length * 12.8 + 4);
      ctx.fillStyle = 'rgba(255,255,255,0.85)';
      ctx.fillRect(left, top, right - left, hgt);
      ctx.strokeStyle = '#8c8c8c'; ctx.lineWidth = 1;
      ctx.strokeRect(left + 0.5, top + 0.5, right - left, hgt);
      ctx.textAlign = 'right'; ctx.textBaseline = 'middle';
      lines.forEach((l, k) => {
        const y = top + 8 + k * 12.8;
        ctx.fillStyle = l.col;
        ctx.fillText(l.t, textRight, y + 0.5);
        if (l.h) {
          ctx.strokeStyle = l.col; ctx.lineWidth = 2;
          ctx.beginPath(); ctx.moveTo(left + 2, y); ctx.lineTo(left + 11, y); ctx.stroke();
        }
      });
      ctx.restore();
    }
  };

  new Chart(cv, {
    type: 'line',
    data: { datasets },
    options: {
      responsive: false, animation: false, devicePixelRatio: 1, events: [],
      layout: { padding: { left: 0, top: PAD_T, right: PAD_R, bottom: 0 } },
      plugins: { legend: {display:false}, tooltip: {enabled:false}, title: {display:false} },
      scales: {
        x: {
          type: 'linear', min: X_MAJOR[0], max: X_MAJOR[X_MAJOR.length-1],
          afterFit(s){ s.height = PAD_B; },
          afterBuildTicks(s){ s.ticks = X_TICKS_ALL.map(v => ({value:v})); },
          ticks: { display: r === 3, autoSkip:false, maxRotation:0, minRotation:0, padding:2, color:'#222',
                   font:{family:FAMILY, size:12}, callback: v => X_MAJOR.includes(v) ? fmt(v) : '' },
          grid: { drawTicks:false, lineWidth:1, color: ctx => X_MAJOR.includes(ctx.tick && ctx.tick.value) ? C_MAJOR : C_MINOR },
          border: { color: C_MAJOR, width: 1 }
        },
        y: {
          type: 'linear', min: Y_MAJOR[0], max: Y_MAJOR[Y_MAJOR.length-1],
          afterFit(s){ s.width = PAD_L; },
          afterBuildTicks(s){ s.ticks = Y_TICKS_ALL.map(v => ({value:v})); },
          ticks: { display: c === 0, autoSkip:false, padding:4, color:'#222',
                   font:{family:FAMILY, size:12}, callback: v => Y_MAJOR.includes(v) ? fmt(v) : '' },
          grid: { drawTicks:false, lineWidth:1, color: ctx => Y_MAJOR.includes(ctx.tick && ctx.tick.value) ? C_MAJOR : C_MINOR },
          border: { color: C_MAJOR, width: 1 }
        }
      }
    },
    plugins: [decor]
  });
}
</script>
</body></html>
